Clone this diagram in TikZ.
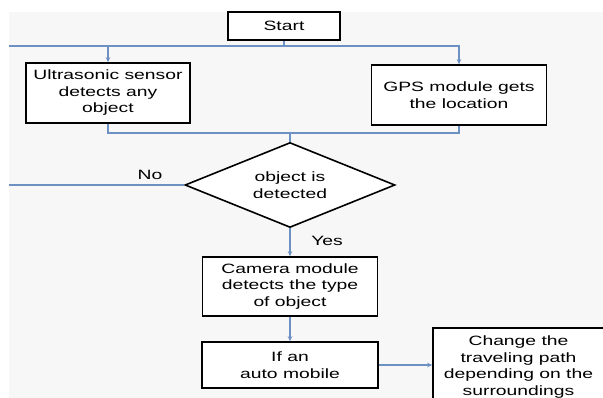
\documentclass[tikz,border=0pt]{standalone}
\usepackage{fontspec}
\setmainfont[FakeStretch=1.43]{Liberation Sans}
\usepackage{tikz}
\usetikzlibrary{shapes.geometric,arrows.meta}

\definecolor{flowblue}{RGB}{110,145,195}
\definecolor{sheet}{RGB}{247,247,247}

\tikzset{
  stepbox/.style={draw=black, line width=1.6pt, fill=white, align=center, inner sep=2pt,
    font=\fontsize{13.5}{16.5}\selectfont},
  flow/.style={draw=flowblue, line width=1.1pt},
  flowarrow/.style={flow, -{Stealth[length=5pt,width=4.5pt]}},
  tag/.style={font=\fontsize{13.5}{16.5}\selectfont}
}

\begin{document}
\begin{tikzpicture}[x=1pt, y=-1pt]
\useasboundingbox (0, 0) rectangle (603, 398);
\clip (0, 0) rectangle (603, 398);
\fill[sheet] (9, 12) rectangle (603, 398);

\node[stepbox, minimum width=112pt, minimum height=28pt] (start) at (284, 26) {Start};
\node[stepbox, minimum width=164pt, minimum height=60pt] (ultra) at (108, 93) {Ultrasonic sensor\\detects any\\object};
\node[stepbox, minimum width=175pt, minimum height=60pt] (gps) at (459, 95) {GPS module gets\\the location};
\node[stepbox, diamond, aspect=2.47, inner sep=0pt, minimum width=210pt, minimum height=85pt] (check) at (290, 185) {object is\\detected};
\node[stepbox, minimum width=175pt, minimum height=59pt] (camera) at (290, 286.5) {Camera module\\detects the type\\of object};
\node[stepbox, minimum width=176pt, minimum height=46pt] (auto) at (290, 365) {If an\\auto mobile};
\node[stepbox, minimum width=171pt, minimum height=78pt] (change) at (518.5, 367) {Change the\\traveling path\\depending on the\\surroundings};

\coordinate (split) at (284, 46);
\coordinate (leftin) at (9, 46);
\coordinate (merge) at (290, 133);
\coordinate (leftout) at (9, 185);

% start splits to both sensors
\draw[flow] (start.south) -- (split);
\draw[flow] (leftin) -- (split);
\draw[flowarrow] (split) -| (ultra.north);
\draw[flowarrow] (split) -| (gps.north);

% sensors join at the decision
\draw[flow] (ultra.south) |- (merge);
\draw[flow] (gps.south) |- (merge);
\draw[flow] (merge) -- (check.north);

\draw[flow] (check.west) -- (leftout);
\node[tag] (no) at (150, 175) {No};

\draw[flowarrow] (check.south) -- (camera.north);
\node[tag] (yes) at (327, 241) {Yes};

\draw[flowarrow] (camera.south) -- (auto.north);
\draw[flowarrow] (auto.east) -- (auto.east -| change.west);
\end{tikzpicture}
\end{document}
